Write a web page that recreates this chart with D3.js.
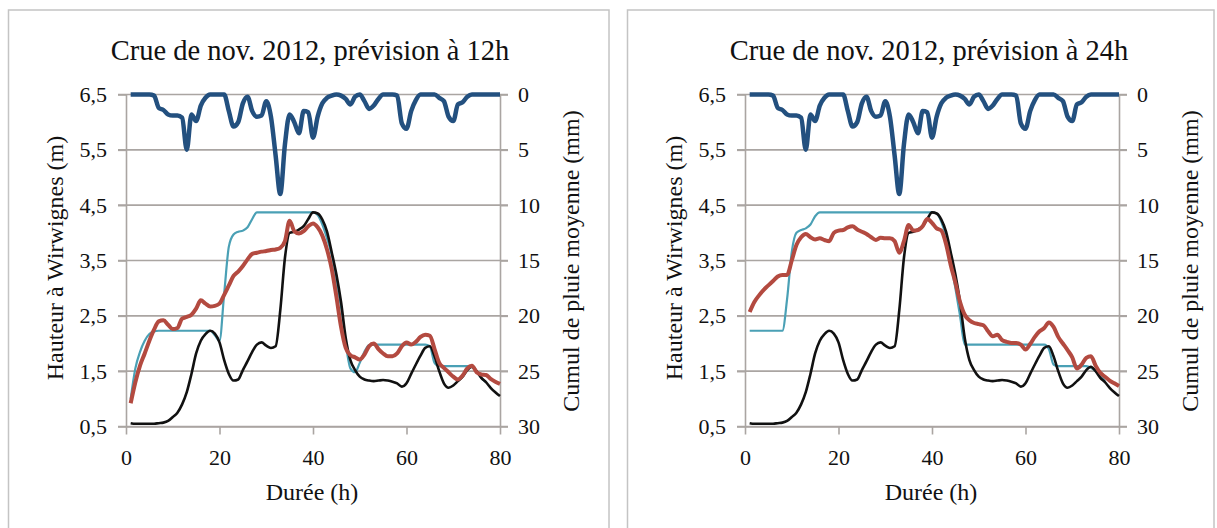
<!DOCTYPE html>
<html><head><meta charset="utf-8">
<script src="https://cdn.jsdelivr.net/npm/d3@7/dist/d3.min.js"></script>
<style>body{margin:0;background:#fff}svg{display:block}</style>
</head><body>
<svg id="c" width="1217" height="528"></svg>
<script>
const SERIF = "'Liberation Serif','Times New Roman','DejaVu Serif',serif";
// ---- data (hours 1..80) ----
const hours = d3.range(1, 81);
const titles = ["Crue de nov. 2012, prévision à 12h", "Crue de nov. 2012, prévision à 24h"];
const xTicks = [0, 20, 40, 60, 80];
const hTicks = [0.5, 1.5, 2.5, 3.5, 4.5, 5.5, 6.5];
const rTicks = [0, 5, 10, 15, 20, 25, 30];

// mean cumulative rain (mm), hourly
const rain = [0,0,0,0,0,0.1,1.2,1.4,1.8,1.9,1.9,2.1,5.0,1.8,2.4,1.0,0.3,0,0,0,
  0,1.5,2.9,2.5,0.8,0.2,1.5,2.0,1.9,0.6,2.0,5.5,9.0,4.5,1.8,2.5,3.5,1.5,1.6,3.9,
  2.0,0.8,0.3,0.1,0,0.1,0.4,0.9,0.2,0,0.6,1.3,1.0,0.4,0,0,0,0.1,2.6,3.1,
  1.5,0.5,0,0,0,0,0.3,0.6,2.0,2.4,0.9,0.7,0.2,0,0,0,0,0,0,0];

// observed height at Wirwignes (m)
const observed = [0.56,0.55,0.55,0.55,0.55,0.55,0.56,0.57,0.60,0.67,0.75,0.90,1.12,1.45,1.82,2.05,2.17,2.23,2.18,2.02,
  1.70,1.45,1.33,1.35,1.52,1.68,1.85,1.98,2.02,1.96,1.92,1.95,2.60,3.55,4.00,4.02,4.06,4.12,4.25,4.37,
  4.35,4.24,4.02,3.65,3.25,2.75,2.10,1.70,1.52,1.40,1.35,1.33,1.32,1.33,1.34,1.33,1.31,1.28,1.22,1.28,
  1.45,1.62,1.78,1.92,1.95,1.77,1.50,1.28,1.20,1.24,1.32,1.40,1.52,1.58,1.50,1.38,1.30,1.20,1.12,1.05];

// forecast envelope (cyan), hours 1..77
const cyan12 = [1.00,1.55,1.85,2.05,2.17,2.22,2.23,2.23,2.23,2.23,2.23,2.23,2.23,2.23,2.23,2.23,2.23,2.23,2.15,2.05,
  2.90,3.75,3.97,4.02,4.04,4.10,4.25,4.37,4.37,4.37,4.37,4.37,4.37,4.37,4.37,4.37,4.37,4.37,4.37,4.37,
  4.32,4.15,3.90,3.60,3.10,2.65,2.00,1.55,1.48,1.65,1.85,1.97,1.98,1.98,1.98,1.98,1.98,1.98,1.98,1.98,
  1.98,1.98,1.98,1.98,1.95,1.65,1.59,1.59,1.59,1.59,1.59,1.59,1.59,1.57,1.50,1.38,1.30];
const cyan24 = [2.23,2.23,2.23,2.23,2.23,2.23,2.23,2.23,2.80,3.65,4.00,4.05,4.08,4.15,4.30,4.37,4.37,4.37,4.37,4.37,
  4.37,4.37,4.37,4.37,4.37,4.37,4.37,4.37,4.37,4.37,4.37,4.37,4.37,4.37,4.37,4.37,4.37,4.37,4.37,4.37,
  4.35,4.20,3.93,3.45,3.00,2.50,1.98,1.98,1.98,1.98,1.98,1.98,1.98,1.98,1.98,1.98,1.98,1.98,1.98,1.98,
  1.98,1.98,1.98,1.98,1.90,1.62,1.59,1.59,1.59,1.59,1.59,1.59,1.59,1.56,1.50,1.42,1.32];

// forecast (red)
const red12 = [0.92,1.30,1.60,1.82,2.05,2.25,2.40,2.42,2.34,2.26,2.28,2.45,2.48,2.52,2.63,2.78,2.72,2.67,2.68,2.72,
  2.88,3.05,3.22,3.30,3.40,3.52,3.62,3.64,3.66,3.67,3.69,3.70,3.73,3.85,4.22,4.03,3.99,4.03,4.12,4.17,
  4.10,3.95,3.70,3.35,2.85,2.30,1.92,1.79,1.75,1.71,1.80,1.95,2.00,1.90,1.82,1.77,1.77,1.82,1.95,2.02,
  1.98,2.03,2.12,2.16,2.14,1.90,1.65,1.56,1.48,1.40,1.35,1.42,1.55,1.60,1.48,1.44,1.43,1.36,1.31,1.27];
const red24 = [2.57,2.75,2.87,2.97,3.05,3.13,3.21,3.24,3.24,3.50,3.78,3.92,3.98,3.92,3.88,3.90,3.87,3.85,4.00,4.04,
  4.05,4.10,4.12,4.06,4.02,3.98,3.92,3.87,3.91,3.90,3.90,3.85,3.64,3.85,4.14,4.04,4.05,4.12,4.25,4.18,
  4.08,4.04,3.80,3.42,3.10,2.75,2.52,2.42,2.37,2.35,2.33,2.22,2.13,2.16,2.06,2.03,2.01,2.01,1.98,1.89,
  1.99,2.12,2.22,2.28,2.38,2.30,2.12,2.00,1.88,1.75,1.55,1.62,1.74,1.77,1.60,1.47,1.40,1.33,1.28,1.23];

const cyanSeries = [cyan12, cyan24];
const redSeries = [red12, red24];

const svg = d3.select("#c");
const fmt = d => d.toFixed(1).replace(".", ",");

function panel(i, dx, border) {
  const g = svg.append("g").attr("transform", `translate(${dx},0)`);
  g.append("rect").attr("x", border[0]).attr("y", 10).attr("width", border[1]-border[0]).attr("height", 540)
    .attr("fill", "none").attr("stroke", "#c4c4c4").attr("stroke-width", 1.5);

  const x = d3.scaleLinear().domain([0, 80]).range([126, 500]);
  const y = d3.scaleLinear().domain([0.5, 6.5]).range([426.5, 94.5]);
  const yr = d3.scaleLinear().domain([0, 30]).range([94.5, 426.5]);

  // gridlines
  g.append("g").selectAll("line").data(hTicks).join("line")
    .attr("x1", 118).attr("x2", 508).attr("y1", d => y(d)).attr("y2", d => y(d))
    .attr("stroke", "#aaa5a2").attr("stroke-width", 1.6);

  const ax = (sel) => { sel.attr("font-family", null).attr("font-size", null);
    sel.select(".domain").attr("stroke", "#aaa5a2").attr("stroke-width", 1.6);
    sel.selectAll(".tick line").attr("stroke", "#aaa5a2").attr("stroke-width", 1.6);
    sel.selectAll("text").style("font-family", SERIF).style("font-size", "22px").attr("fill", "#111"); };

  g.append("g").attr("transform", "translate(126,0)")
    .call(d3.axisLeft(y).tickValues(hTicks).tickFormat(fmt).tickSize(8).tickSizeOuter(0).tickPadding(11)).call(ax);
  g.append("g").attr("transform", "translate(500,0)")
    .call(d3.axisRight(yr).tickValues(rTicks).tickSize(8).tickSizeOuter(0).tickPadding(10)).call(ax);
  g.append("g").attr("transform", "translate(0,426.5)")
    .call(d3.axisBottom(x).tickValues(xTicks).tickSize(8).tickSizeOuter(0).tickPadding(15)).call(ax);

  const line = (yy) => d3.line().x((d, k) => x(hours[k])).y(d => yy(d)).curve(d3.curveMonotoneX);

  g.append("path").datum(cyanSeries[i]).attr("d", line(y)).attr("fill", "none")
    .attr("stroke", "#4aa0b5").attr("stroke-width", 2.2).attr("stroke-linejoin", "round");
  g.append("path").datum(observed).attr("d", line(y)).attr("fill", "none")
    .attr("stroke", "#111").attr("stroke-width", 2.6).attr("stroke-linejoin", "round");
  g.append("path").datum(redSeries[i]).attr("d", line(y)).attr("fill", "none")
    .attr("stroke", "#b34a40").attr("stroke-width", 4).attr("stroke-linejoin", "round");
  g.append("path").datum(rain).attr("d", line(yr)).attr("fill", "none")
    .attr("stroke", "#23507f").attr("stroke-width", 4.5).attr("stroke-linejoin", "round");

  const t = (sel, size) => sel.style("font-family", SERIF).style("font-size", size + "px").attr("fill", "#111");
  g.append("text").attr("x", 310).attr("y", 60).attr("text-anchor", "middle").call(t, 28.5).text(titles[i]);
  g.append("text").attr("x", 312).attr("y", 500).attr("text-anchor", "middle").call(t, 24).text("Durée (h)");
  g.append("text").attr("transform", "translate(63,258) rotate(-90)").attr("text-anchor", "middle")
    .call(t, 24).text("Hauteur à Wirwignes (m)");
  g.append("text").attr("transform", "translate(579,261) rotate(-90)").attr("text-anchor", "middle")
    .call(t, 24).text("Cumul de pluie moyenne (mm)");
}

panel(0, 0, [8.5, 609]);
panel(1, 619, [8.5, 595]);
</script>
</body></html>
